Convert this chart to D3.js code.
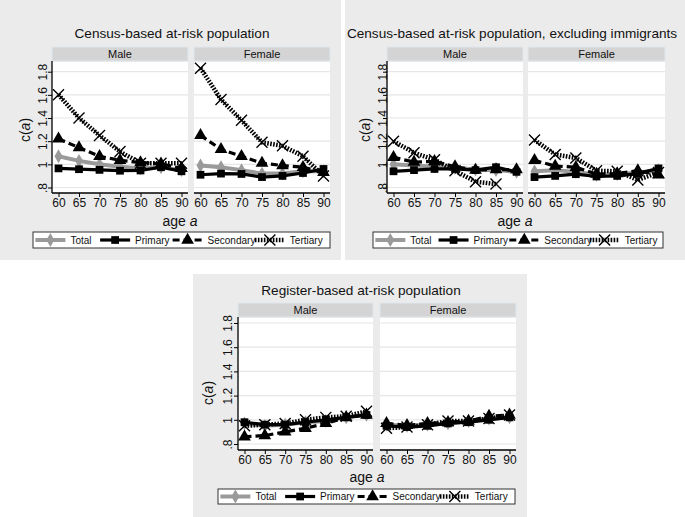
<!DOCTYPE html>
<html><head><meta charset="utf-8">
<script src="https://cdn.jsdelivr.net/npm/d3@7/dist/d3.min.js"></script>
<style>body{margin:0;background:#fff}svg{display:block}text{font-family:"Liberation Sans",Arial,sans-serif}</style>
</head><body><svg id="c" width="685" height="517"></svg>
<script>
// ---- data ----
const ages = [60, 65, 70, 75, 80, 85, 90];
const yTicks = [0.8, 1, 1.2, 1.4, 1.6, 1.8];
const yTickLabels = [".8", "1", "1.2", "1.4", "1.6", "1.8"];
const sexes = ["Male", "Female"];
const seriesNames = ["Total", "Primary", "Secondary", "Tertiary"];
const titles = ["Census-based at-risk population", "Census-based at-risk population, excluding immigrants", "Register-based at-risk population"];

// Census-based
const censusMaleTotal     = [1.07, 1.03, 1.00, 0.98, 0.965, 0.975, 0.95];
const censusMalePrimary   = [0.965, 0.958, 0.952, 0.945, 0.947, 0.975, 0.94];
const censusMaleSecondary = [1.22, 1.145, 1.07, 1.035, 1.015, 1.005, 0.965];
const censusMaleTertiary  = [1.60, 1.40, 1.25, 1.11, 1.01, 1.01, 1.01];
const censusFemaleTotal     = [0.99, 0.975, 0.95, 0.92, 0.92, 0.94, 0.94];
const censusFemalePrimary   = [0.91, 0.92, 0.917, 0.89, 0.90, 0.925, 0.96];
const censusFemaleSecondary = [1.25, 1.13, 1.07, 1.01, 0.99, 0.975, 0.93];
const censusFemaleTertiary  = [1.83, 1.56, 1.38, 1.19, 1.16, 1.07, 0.90];
// Census-based, excluding immigrants
const exclMaleTotal     = [1.00, 0.99, 0.98, 0.97, 0.955, 0.95, 0.935];
const exclMalePrimary   = [0.94, 0.95, 0.96, 0.96, 0.95, 0.975, 0.935];
const exclMaleSecondary = [1.06, 1.02, 1.025, 0.98, 0.95, 0.955, 0.955];
const exclMaleTertiary  = [1.20, 1.10, 1.04, 0.945, 0.85, 0.83, null];
const exclFemaleTotal     = [0.94, 0.95, 0.935, 0.91, 0.915, 0.93, 0.95];
const exclFemalePrimary   = [0.89, 0.90, 0.915, 0.895, 0.90, 0.92, 0.965];
const exclFemaleSecondary = [1.035, 0.985, 0.975, 0.915, 0.92, 0.945, 0.91];
const exclFemaleTertiary  = [1.21, 1.085, 1.055, 0.945, 0.94, 0.865, 0.93];
// Register-based
const regMaleTotal     = [0.97, 0.95, 0.96, 0.98, 0.99, 1.02, 1.04];
const regMalePrimary   = [0.98, 0.96, 0.96, 0.98, 1.00, 1.02, 1.04];
const regMaleSecondary = [0.86, 0.87, 0.90, 0.93, 0.97, 1.02, 1.04];
const regMaleTertiary  = [0.95, 0.96, 0.97, 1.00, 1.02, 1.03, 1.07];
const regFemaleTotal     = [0.96, 0.95, 0.96, 0.97, 0.99, 1.01, 1.02];
const regFemalePrimary   = [0.95, 0.94, 0.95, 0.97, 0.98, 1.00, 1.02];
const regFemaleSecondary = [0.97, 0.955, 0.97, 0.98, 0.99, 1.03, 1.04];
const regFemaleTertiary  = [0.93, 0.94, 0.96, 0.99, 0.99, 1.01, 1.04];

const graphData = [
  [[censusMaleTotal, censusMalePrimary, censusMaleSecondary, censusMaleTertiary],
   [censusFemaleTotal, censusFemalePrimary, censusFemaleSecondary, censusFemaleTertiary]],
  [[exclMaleTotal, exclMalePrimary, exclMaleSecondary, exclMaleTertiary],
   [exclFemaleTotal, exclFemalePrimary, exclFemaleSecondary, exclFemaleTertiary]],
  [[regMaleTotal, regMalePrimary, regMaleSecondary, regMaleTertiary],
   [regFemaleTotal, regFemalePrimary, regFemaleSecondary, regFemaleTertiary]]
];

// ---- layout ----
const layouts = [
  {box:[0,0,341,260], titleX:172, titleY:38, panels:[[52,188],[194,330]], stripTop:47, plotTop:61, plotBottom:193,
   y08:187.5, y18:71.7, yLabX:42, yTitX:25, yTitY:130, tickY:207, ageX:180, ageY:226, legend:[33,232,330,248]},
  {box:[345,0,685,260], titleX:512, titleY:38, panels:[[387,523],[528,665]], stripTop:47, plotTop:61, plotBottom:193,
   y08:187.5, y18:71.7, yLabX:382, yTitX:365, yTitY:130, tickY:207, ageX:515, ageY:226, legend:[373,232,663,248]},
  {box:[193,274,527,517], titleX:361, titleY:295, panels:[[238,373],[380,516]], stripTop:303, plotTop:317, plotBottom:450,
   y08:444, y18:323, yLabX:227, yTitX:208, yTitY:393, tickY:464, ageX:367, ageY:482, legend:[218,489,515,504]}
];

const styles = [
  {stroke:"#9a9a9a", width:4, dash:null, marker:"diamond"},
  {stroke:"#000", width:3.2, dash:null, marker:"square"},
  {stroke:"#000", width:3.2, dash:"7,4", marker:"triangle"},
  {stroke:"#000", width:4.5, dash:"1.6,1.4", marker:"x"}
];

const svg = d3.select("#c");

function drawMarker(g, type, x, y, color) {
  if (type === "x") {
    const s = 5.5;
    g.append("path").attr("d", `M${x-s},${y-s}L${x+s},${y+s}M${x-s},${y+s}L${x+s},${y-s}`)
      .attr("stroke", "#000").attr("stroke-width", 1.4).attr("fill", "none");
  } else {
    const sym = type === "diamond" ? d3.symbolDiamond : type === "square" ? d3.symbolSquare : d3.symbolTriangle;
    const size = type === "diamond" ? 55 : type === "square" ? 60 : 70;
    g.append("path").attr("d", d3.symbol().type(sym).size(size)())
      .attr("transform", `translate(${x},${y})`).attr("fill", color);
  }
}

layouts.forEach((L, gi) => {
  const g = svg.append("g");
  const [bx0, by0, bx1, by1] = L.box;
  g.append("rect").attr("x", bx0).attr("y", by0).attr("width", bx1-bx0).attr("height", by1-by0).attr("fill", "#ebebeb");
  g.append("text").attr("x", L.titleX).attr("y", L.titleY).attr("text-anchor", "middle")
    .attr("font-size", 13.6).attr("fill", "#111").text(titles[gi]);

  const y = d3.scaleLinear().domain([0.8, 1.8]).range([L.y08, L.y18]);

  L.panels.forEach((P, pi) => {
    const x = d3.scaleLinear().domain([60, 90]).range([P[0]+6.5, P[1]-6.5]);
    // strip
    g.append("rect").attr("x", P[0]).attr("y", L.stripTop).attr("width", P[1]-P[0]).attr("height", L.plotTop-L.stripTop)
      .attr("fill", "#d4d4d4").attr("stroke", "#e2e8ec").attr("stroke-width", 1);
    g.append("text").attr("x", (P[0]+P[1])/2).attr("y", L.stripTop+11).attr("text-anchor", "middle")
      .attr("font-size", 11).attr("fill", "#111").text(sexes[pi]);
    // plot bg
    g.append("rect").attr("x", P[0]).attr("y", L.plotTop+1).attr("width", P[1]-P[0]).attr("height", L.plotBottom-L.plotTop-1)
      .attr("fill", "#fff");
    // gridlines
    g.selectAll(null).data(yTicks).enter().append("line")
      .attr("x1", P[0]).attr("x2", P[1]).attr("y1", d => y(d)).attr("y2", d => y(d))
      .attr("stroke", "#e6e6e6").attr("stroke-width", 1.2);
    // x axis
    const xa = g.append("g").attr("transform", `translate(0,${L.plotBottom})`)
      .call(d3.axisBottom(x).tickValues(ages).tickSize(4).tickPadding(2).tickFormat(d3.format("d")));
    xa.select(".domain").attr("d", `M${P[0]},0H${P[1]}`).attr("stroke", "#000").attr("stroke-width", 1.3);
    xa.selectAll(".tick line").attr("stroke", "#000");
    xa.selectAll("text").attr("font-size", 12).attr("fill", "#111").attr("font-family", "Liberation Sans, Arial, sans-serif")
      .attr("dy", null).attr("y", L.tickY - L.plotBottom);
    if (pi === 0) {
      const ya = g.append("g").attr("transform", `translate(${P[0]},0)`)
        .call(d3.axisLeft(y).tickValues(yTicks).tickSize(4).tickFormat((d, i) => yTickLabels[i]));
      ya.select(".domain").attr("d", `M0,${L.plotTop}V${L.plotBottom}`).attr("stroke", "#000").attr("stroke-width", 1.3);
      ya.selectAll(".tick line").attr("stroke", "#000");
      ya.selectAll(".tick text").attr("font-size", 12).attr("fill", "#111").attr("font-family", "Liberation Sans, Arial, sans-serif")
        .attr("x", null).attr("dy", null).attr("text-anchor", "middle")
        .attr("transform", function(d) { return `translate(${L.yLabX - P[0] + 4.5},0) rotate(-90)`; });
    }
    // series
    const data = graphData[gi][pi];
    data.forEach((vals, si) => {
      const st = styles[si];
      const pts = ages.map((a, k) => [a, vals[k]]).filter(p => p[1] != null);
      const line = d3.line().x(p => x(p[0])).y(p => y(p[1]));
      const path = g.append("path").attr("d", line(pts)).attr("fill", "none")
        .attr("stroke", st.stroke).attr("stroke-width", st.width);
      if (st.dash) path.attr("stroke-dasharray", st.dash);
      pts.forEach(p => drawMarker(g, st.marker, x(p[0]), y(p[1]), st.stroke));
    });
  });

  // y title
  const yt = g.append("text").attr("transform", `translate(${L.yTitX + 4.5},${L.yTitY}) rotate(-90)`)
    .attr("text-anchor", "middle").attr("font-size", 14).attr("fill", "#111");
  yt.append("tspan").text("c(");
  yt.append("tspan").attr("font-style", "italic").text("a");
  yt.append("tspan").text(")");
  // x title
  const xt = g.append("text").attr("x", L.ageX).attr("y", L.ageY).attr("text-anchor", "middle")
    .attr("font-size", 14).attr("fill", "#111");
  xt.append("tspan").text("age ");
  xt.append("tspan").attr("font-style", "italic").text("a");

  // legend
  const [lx0, ly0, lx1, ly1] = L.legend;
  g.append("rect").attr("x", lx0).attr("y", ly0).attr("width", lx1-lx0).attr("height", ly1-ly0)
    .attr("fill", "#fff").attr("stroke", "#333").attr("stroke-width", 1);
  const lw = lx1 - lx0;
  const offs = [0.008, 0.226, 0.47, 0.747];
  const ly = (ly0 + ly1) / 2;
  seriesNames.forEach((nm, si) => {
    const st = styles[si];
    const sx = lx0 + offs[si] * lw;
    const p = g.append("path").attr("d", `M${sx},${ly}H${sx+30}`).attr("stroke", st.stroke)
      .attr("stroke-width", st.width).attr("fill", "none");
    if (st.dash) p.attr("stroke-dasharray", st.dash);
    drawMarker(g, st.marker, sx + 15, ly, st.stroke);
    g.append("text").attr("x", sx + 35).attr("y", ly + 3.5).attr("font-size", 10).attr("fill", "#111").text(nm);
  });
});
</script></body></html>
